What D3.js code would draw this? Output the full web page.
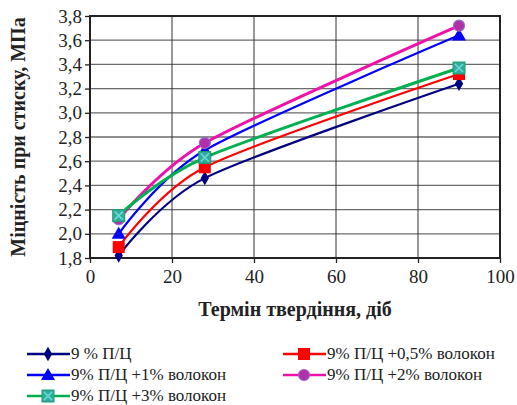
<!DOCTYPE html>
<html>
<head>
<meta charset="utf-8">
<script src="https://cdnjs.cloudflare.com/ajax/libs/d3/7.8.5/d3.min.js"></script>
<style>
  body { margin: 0; background: #fff; }
  svg text { font-family: "Liberation Serif", "Times New Roman", serif !important; }
</style>
</head>
<body>
<svg id="chart" width="517" height="405"></svg>
<script>
// days of hardening
var days = [7, 28, 90];
// compressive strength, MPa
var s0 = [1.82, 2.46, 3.24];
var s05 = [1.89, 2.55, 3.32];
var s1 = [2.00, 2.69, 3.64];
var s2 = [2.12, 2.75, 3.72];
var s3 = [2.15, 2.63, 3.37];
var names = ["9 % П/Ц", "9% П/Ц +0,5% волокон", "9% П/Ц +1% волокон", "9% П/Ц +2% волокон", "9% П/Ц +3% волокон"];
var xTicks = [0, 20, 40, 60, 80, 100];
var yTicks = [1.8, 2.0, 2.2, 2.4, 2.6, 2.8, 3.0, 3.2, 3.4, 3.6, 3.8];

var series = [
  {name: names[0], vals: s0, color: "#000080", marker: "diamond", fill: "#000080"},
  {name: names[1], vals: s05, color: "#ff0000", marker: "square", fill: "#ff0000"},
  {name: names[2], vals: s1, color: "#0000ff", marker: "triangle", fill: "#0000ff"},
  {name: names[3], vals: s2, color: "#ee11aa", marker: "circle", fill: "#b030a8"},
  {name: names[4], vals: s3, color: "#00b050", marker: "xsquare", fill: "#33aa99"}
];

var svg = d3.select("#chart");
var x = d3.scaleLinear().domain([0, 100]).range([90, 500]);
var y = d3.scaleLinear().domain([1.8, 3.8]).range([258, 16]);

// grid
svg.append("g").selectAll("line").data(yTicks.slice(1, -1)).enter().append("line")
  .attr("x1", x(0)).attr("x2", x(100))
  .attr("y1", d => y(d)).attr("y2", d => y(d))
  .attr("stroke", "#6a6a6a").attr("stroke-width", 1.3);
svg.append("g").selectAll("line").data(xTicks.slice(1, -1)).enter().append("line")
  .attr("x1", d => x(d)).attr("x2", d => x(d))
  .attr("y1", y(1.8)).attr("y2", y(3.8))
  .attr("stroke", "#333").attr("stroke-width", 1);

// axes
var xAxis = svg.append("g").attr("transform", "translate(0," + y(1.8) + ")")
  .call(d3.axisBottom(x).tickValues(xTicks).tickSize(5).tickPadding(7));
var yAxis = svg.append("g").attr("transform", "translate(" + x(0) + ",0)")
  .call(d3.axisLeft(y).tickValues(yTicks).tickSize(5).tickPadding(3)
    .tickFormat(d => d3.format(".1f")(d).replace(".", ",")));
[xAxis, yAxis].forEach(a => {
  a.attr("font-family", "Liberation Serif").attr("font-size", 19);
  a.select(".domain").remove();
  a.selectAll("line").attr("stroke", "#222").attr("stroke-width", 1.3);
  a.selectAll("text").attr("fill", "#222");
});

// frame
svg.append("rect").attr("x", x(0)).attr("y", y(3.8))
  .attr("width", x(100) - x(0)).attr("height", y(1.8) - y(3.8))
  .attr("fill", "none").attr("stroke", "#222").attr("stroke-width", 2);

// lines
var line = d3.line().x((d, i) => x(days[i])).y(d => y(d)).curve(d3.curveCardinal.tension(0.2));
svg.append("g").selectAll("path").data(series).enter().append("path")
  .attr("d", d => line(d.vals)).attr("fill", "none")
  .attr("stroke", d => d.color).attr("stroke-width", d => d.marker == "xsquare" || d.marker == "circle" ? 3 : 2.2);

function drawMarker(g, s, cx, cy) {
  if (s.marker == "diamond") {
    g.append("path").attr("d", d3.symbol(d3.symbolDiamond, 60)())
      .attr("transform", "translate(" + cx + "," + cy + ")").attr("fill", s.fill);
  } else if (s.marker == "square") {
    g.append("rect").attr("x", cx - 6).attr("y", cy - 6).attr("width", 12).attr("height", 12).attr("fill", s.fill);
  } else if (s.marker == "triangle") {
    g.append("path").attr("d", d3.symbol(d3.symbolTriangle, 85)())
      .attr("transform", "translate(" + cx + "," + (cy + 1) + ")").attr("fill", s.fill);
  } else if (s.marker == "circle") {
    g.append("circle").attr("cx", cx).attr("cy", cy).attr("r", 5.5)
      .attr("fill", s.fill).attr("stroke", "#9966cc").attr("stroke-width", 1.2);
  } else {
    g.append("rect").attr("x", cx - 6).attr("y", cy - 6).attr("width", 12).attr("height", 12)
      .attr("fill", s.fill).attr("stroke", "#1e9e6e").attr("stroke-width", 1);
    g.append("path").attr("d", "M" + (cx - 4) + "," + (cy - 4) + "L" + (cx + 4) + "," + (cy + 4) +
      "M" + (cx + 4) + "," + (cy - 4) + "L" + (cx - 4) + "," + (cy + 4))
      .attr("stroke", "#66dddd").attr("stroke-width", 1.5);
  }
}

series.forEach(s => {
  var g = svg.append("g");
  s.vals.forEach((v, i) => drawMarker(g, s, x(days[i]), y(v)));
});

// axis titles
svg.append("text").attr("x", 295).attr("y", 316).attr("text-anchor", "middle")
  .attr("font-size", 20).attr("font-weight", "bold").attr("fill", "#222")
  .text("Термін твердіння, діб");
svg.append("text").attr("transform", "translate(25,137) rotate(-90)").attr("text-anchor", "middle")
  .attr("font-size", 20).attr("font-weight", "bold").attr("fill", "#222")
  .text("Міцність при стиску, МПа");

// legend
var legPos = [[27, 354], [283, 354], [27, 375], [283, 375], [27, 396]];
series.forEach((s, i) => {
  var lx = legPos[i][0], ly = legPos[i][1];
  var g = svg.append("g");
  g.append("line").attr("x1", lx).attr("x2", lx + 43).attr("y1", ly).attr("y2", ly)
    .attr("stroke", s.color).attr("stroke-width", 2.5);
  drawMarker(g, s, lx + 21, ly);
  g.append("text").attr("x", lx + 44).attr("y", ly + 5)
    .attr("font-size", 17).attr("fill", "#222").text(s.name);
});
</script>
</body>
</html>
